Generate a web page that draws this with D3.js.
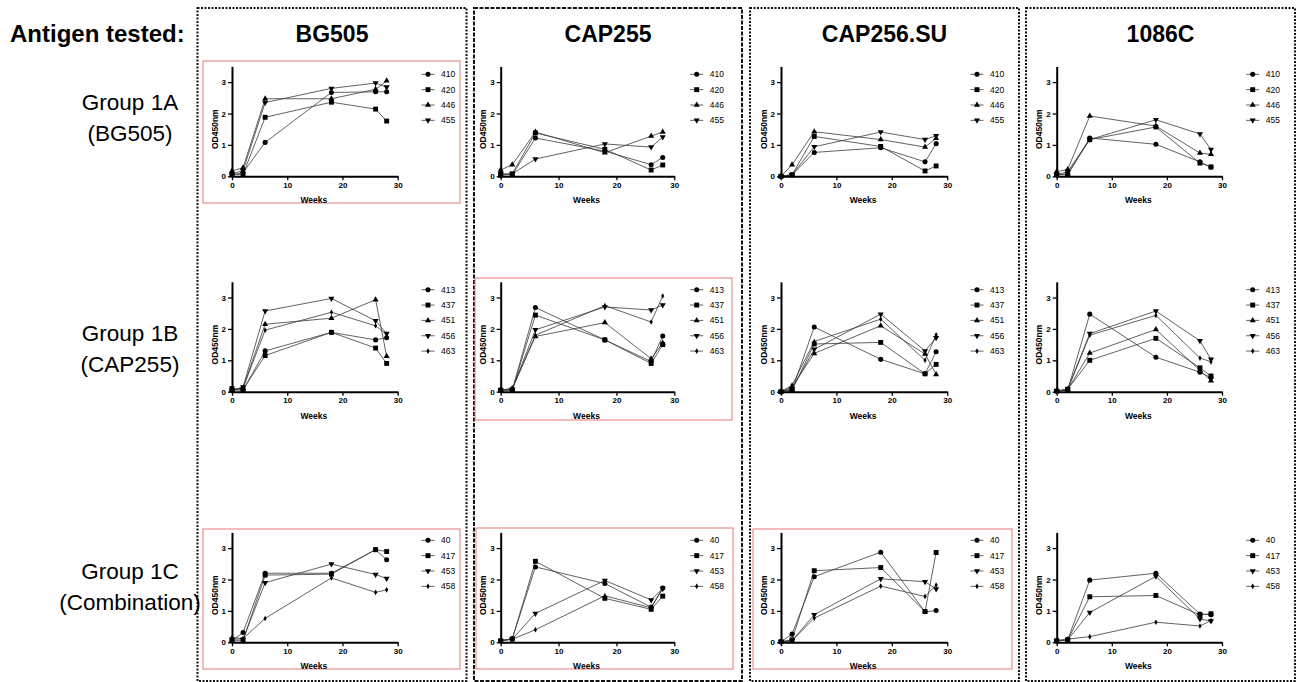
<!DOCTYPE html>
<html><head><meta charset="utf-8">
<script src="https://cdn.jsdelivr.net/npm/d3@7"></script>
<style>
body{margin:0;background:#fff;}
svg{display:block;font-family:"Liberation Sans",Arial,sans-serif;}
</style></head>
<body><svg id="c" width="1304" height="682"></svg>
<script>
// ---------- data ----------
const weeks = [0, 2, 6, 18, 26, 28];
const antigens = ["BG505", "CAP255", "CAP256.SU", "1086C"];
const groupNames = ["Group 1A", "Group 1B", "Group 1C"];
const groupSubs = ["(BG505)", "(CAP255)", "(Combination)"];
const animals1A = ["410", "420", "446", "455"];
const animals1B = ["413", "437", "451", "456", "463"];
const animals1C = ["40", "417", "453", "458"];
const shapes1A = ["circle", "square", "tri", "triDown"];
const shapes1B = ["circle", "square", "tri", "triDown", "diamond"];
const shapes1C = ["circle", "square", "triDown", "diamond"];
const xTicks = [0, 10, 20, 30];
const yTicks = [0, 1, 2, 3];

// Group 1A
const g1A_BG505 = [
  [0.05, 0.12, 1.08, 2.67, 2.69, 2.69],
  [0.05, 0.06, 1.88, 2.36, 2.14, 1.76],
  [0.17, 0.27, 2.47, 2.47, 2.77, 3.04],
  [0.08, 0.18, 2.35, 2.80, 2.97, 2.84]];
const g1A_CAP255 = [
  [0.05, 0.05, 1.22, 0.80, 0.37, 0.60],
  [0.03, 0.08, 1.38, 0.86, 0.20, 0.36],
  [0.20, 0.37, 1.41, 0.75, 1.28, 1.41],
  [0.08, 0.08, 0.55, 1.03, 0.93, 1.25]];
const g1A_CAP256 = [
  [0.00, 0.05, 0.76, 0.91, 0.46, 1.04],
  [0.00, 0.05, 1.27, 0.95, 0.17, 0.33],
  [0.00, 0.37, 1.42, 1.17, 0.93, 1.21],
  [0.00, 0.05, 0.94, 1.41, 1.17, 1.29]];
const g1A_1086C = [
  [0.05, 0.05, 1.22, 1.02, 0.46, 0.29],
  [0.05, 0.08, 1.17, 1.57, 0.42, 0.30],
  [0.15, 0.22, 1.92, 1.60, 0.74, 0.70],
  [0.05, 0.15, 1.17, 1.80, 1.35, 0.85]];
// Group 1B
const g1B_BG505 = [
  [0.05, 0.05, 1.30, 1.89, 1.65, 1.72],
  [0.10, 0.07, 1.15, 1.89, 1.39, 0.90],
  [0.05, 0.12, 2.15, 2.34, 2.93, 1.13],
  [0.05, 0.15, 2.57, 2.97, 2.26, 1.85],
  [0.05, 0.12, 1.96, 2.53, 2.10, 1.82]];
const g1B_CAP255 = [
  [0.05, 0.05, 2.68, 1.65, 0.96, 1.77],
  [0.05, 0.05, 2.44, 1.65, 0.90, 1.50],
  [0.05, 0.10, 1.76, 2.20, 1.05, 1.55],
  [0.05, 0.08, 1.97, 2.70, 2.60, 2.76],
  [0.05, 0.10, 1.80, 2.74, 2.22, 3.05]];
const g1B_CAP256 = [
  [0.00, 0.05, 2.06, 1.03, 0.57, 1.27],
  [0.00, 0.05, 1.52, 1.57, 0.57, 0.87],
  [0.00, 0.15, 1.22, 2.10, 1.20, 0.55],
  [0.00, 0.10, 1.35, 2.47, 1.30, 1.72],
  [0.00, 0.21, 1.60, 2.31, 1.00, 1.81]];
const g1B_1086C = [
  [0.02, 0.05, 2.47, 1.10, 0.62, 0.45],
  [0.02, 0.08, 1.00, 1.70, 0.76, 0.50],
  [0.02, 0.07, 1.23, 1.98, 0.68, 0.35],
  [0.02, 0.08, 1.85, 2.57, 1.62, 1.03],
  [0.02, 0.08, 1.80, 2.43, 1.07, 0.95]];
// Group 1C
const g1C_BG505 = [
  [0.05, 0.31, 2.20, 2.20, 2.95, 2.63],
  [0.05, 0.05, 2.14, 2.17, 2.95, 2.89],
  [0.10, 0.10, 1.90, 2.49, 2.16, 2.03],
  [0.15, 0.12, 0.76, 2.05, 1.59, 1.67]];
const g1C_CAP255 = [
  [0.05, 0.12, 2.40, 1.87, 1.12, 1.73],
  [0.05, 0.10, 2.58, 1.40, 1.05, 1.47],
  [0.05, 0.10, 0.92, 1.97, 1.35, 1.71],
  [0.05, 0.10, 0.40, 1.48, 1.10, 1.70]];
const g1C_CAP256 = [
  [0.02, 0.26, 2.09, 2.87, 0.97, 1.01],
  [0.02, 0.08, 2.28, 2.38, 0.98, 2.86],
  [0.02, 0.05, 0.88, 2.02, 1.93, 1.70],
  [0.02, 0.05, 0.77, 1.79, 1.46, 1.82]];
const g1C_1086C = [
  [0.05, 0.08, 1.98, 2.20, 0.90, 0.88],
  [0.05, 0.08, 1.45, 1.49, 0.87, 0.91],
  [0.05, 0.08, 0.95, 2.10, 0.74, 0.68],
  [0.05, 0.10, 0.18, 0.64, 0.52, 0.69]];

const panelData = [
  [g1A_BG505, g1A_CAP255, g1A_CAP256, g1A_1086C],
  [g1B_BG505, g1B_CAP255, g1B_CAP256, g1B_1086C],
  [g1C_BG505, g1C_CAP255, g1C_CAP256, g1C_1086C]];
const rowAnimals = [animals1A, animals1B, animals1C];
const rowShapes = [shapes1A, shapes1B, shapes1C];

// ---------- layout ----------
const colX0 = [232, 500.7, 781, 1056.7];
const colX1 = [397.7, 674.3, 947.2, 1222];
const rowY0 = [176.3, 391.7, 642.3];
const unitPx = 31.4;
const colBoxes = [[197.5, 466.5, "2,1.5"], [474, 742, "4,1.5"], [750, 1019, "2,1.5"], [1026, 1295, "2,1.5"]];
const redBoxes = [[203, 61, 460, 203], [475, 278, 732, 420], [203, 529, 460, 669], [476, 528, 733, 669], [753, 529, 1012, 669]];

const svg = d3.select("#c");

// column frames
colBoxes.forEach(b => {
  svg.append("rect").attr("x", b[0]).attr("y", 8).attr("width", b[1] - b[0]).attr("height", 673)
    .attr("fill", "none").attr("stroke", "#111").attr("stroke-width", 2).attr("stroke-dasharray", b[2]);
});
// red highlight boxes
redBoxes.forEach(b => {
  svg.append("rect").attr("x", b[0]).attr("y", b[1]).attr("width", b[2] - b[0]).attr("height", b[3] - b[1])
    .attr("fill", "none").attr("stroke", "#e8787a").attr("stroke-width", 1);
});

// headers
svg.append("text").attr("x", 10).attr("y", 42).attr("font-size", 24).attr("font-weight", "bold")
  .text("Antigen tested:");
antigens.forEach((a, i) => {
  svg.append("text").attr("x", (colBoxes[i][0] + colBoxes[i][1]) / 2).attr("y", 42)
    .attr("text-anchor", "middle").attr("font-size", 23).attr("font-weight", "bold").text(a);
});
groupNames.forEach((g, r) => {
  const cy = [118, 349, 587][r];
  svg.append("text").attr("x", 130).attr("y", cy - 8).attr("text-anchor", "middle").attr("font-size", 22.5).text(g);
  svg.append("text").attr("x", 130).attr("y", cy + 23).attr("text-anchor", "middle").attr("font-size", 22.5).text(groupSubs[r]);
});

function symbolPath(shape) {
  const t = {circle: [d3.symbolCircle, 20], square: [d3.symbolSquare, 24], tri: [d3.symbolTriangle, 16],
             triDown: [d3.symbolTriangle, 16], diamond: [d3.symbolDiamond, 9]}[shape];
  return d3.symbol().type(t[0]).size(t[1])();
}
function rot(shape) { return shape === "triDown" ? " rotate(180)" : ""; }

for (let r = 0; r < 3; r++) {
  for (let c = 0; c < 4; c++) {
    const x = d3.scaleLinear().domain([0, 30]).range([colX0[c], colX1[c]]);
    const y = d3.scaleLinear().domain([0, 3.5]).range([rowY0[r], rowY0[r] - 3.5 * unitPx]);
    const g = svg.append("g");
    const data = panelData[r][c];
    const shapes = rowShapes[r];
    const names = rowAnimals[r];
    const line = d3.line().x((d, i) => x(weeks[i])).y(d => y(d));

    data.forEach((s, k) => {
      g.append("path").attr("d", line(s)).attr("fill", "none").attr("stroke", "#3a3a3a").attr("stroke-width", 0.8);
    });
    data.forEach((s, k) => {
      g.selectAll(null).data(s).enter().append("path")
        .attr("d", symbolPath(shapes[k]))
        .attr("transform", (d, i) => `translate(${x(weeks[i])},${y(d)})${rot(shapes[k])}`)
        .attr("fill", "#000");
    });

    const ax = g.append("g").attr("transform", `translate(0,${rowY0[r]})`);
    ax.call(d3.axisBottom(x).tickValues(d3.range(0, 31)).tickSize(2.5).tickSizeOuter(0).tickFormat(""));
    ax.call(d3.axisBottom(x).tickValues(xTicks).tickSize(4).tickSizeOuter(0).tickPadding(2).tickFormat(d3.format("d")));
    const ay = g.append("g").attr("transform", `translate(${colX0[c]},0)`);
    ay.call(d3.axisLeft(y).tickValues(yTicks).tickSize(4).tickSizeOuter(0).tickPadding(2).tickFormat(d3.format("d")));
    [ax, ay].forEach(a => {
      a.selectAll(".domain").attr("stroke", "#000").attr("stroke-width", 2);
      a.selectAll(".tick line").attr("stroke", "#000").attr("stroke-width", 1.3);
      a.selectAll(".tick text").attr("font-family", "'Liberation Sans',Arial,sans-serif")
        .attr("font-size", 8).attr("font-weight", "bold").attr("fill", "#000");
    });

    g.append("text").attr("x", (colX0[c] + colX1[c]) / 2 - 1).attr("y", rowY0[r] + 27)
      .attr("text-anchor", "middle").attr("font-size", 8.5).attr("font-weight", "bold").text("Weeks");
    g.append("text").attr("transform", `translate(${colX0[c] - 14.5},${y(1.5)}) rotate(-90)`)
      .attr("text-anchor", "middle").attr("font-size", 8.5).attr("font-weight", "bold").text("OD450nm");

    names.forEach((n, k) => {
      const lx = colX0[c] + 196, ly = rowY0[r] - 102 + k * 15.35;
      g.append("line").attr("x1", lx - 6.5).attr("x2", lx + 6.5).attr("y1", ly).attr("y2", ly)
        .attr("stroke", "#3a3a3a").attr("stroke-width", 0.8);
      g.append("path").attr("d", symbolPath(shapes[k]))
        .attr("transform", `translate(${lx},${ly})${rot(shapes[k])}`).attr("fill", "#000");
      g.append("text").attr("x", lx + 13).attr("y", ly + 3).attr("font-size", 8.5).text(n);
    });
  }
}
</script></body></html>
